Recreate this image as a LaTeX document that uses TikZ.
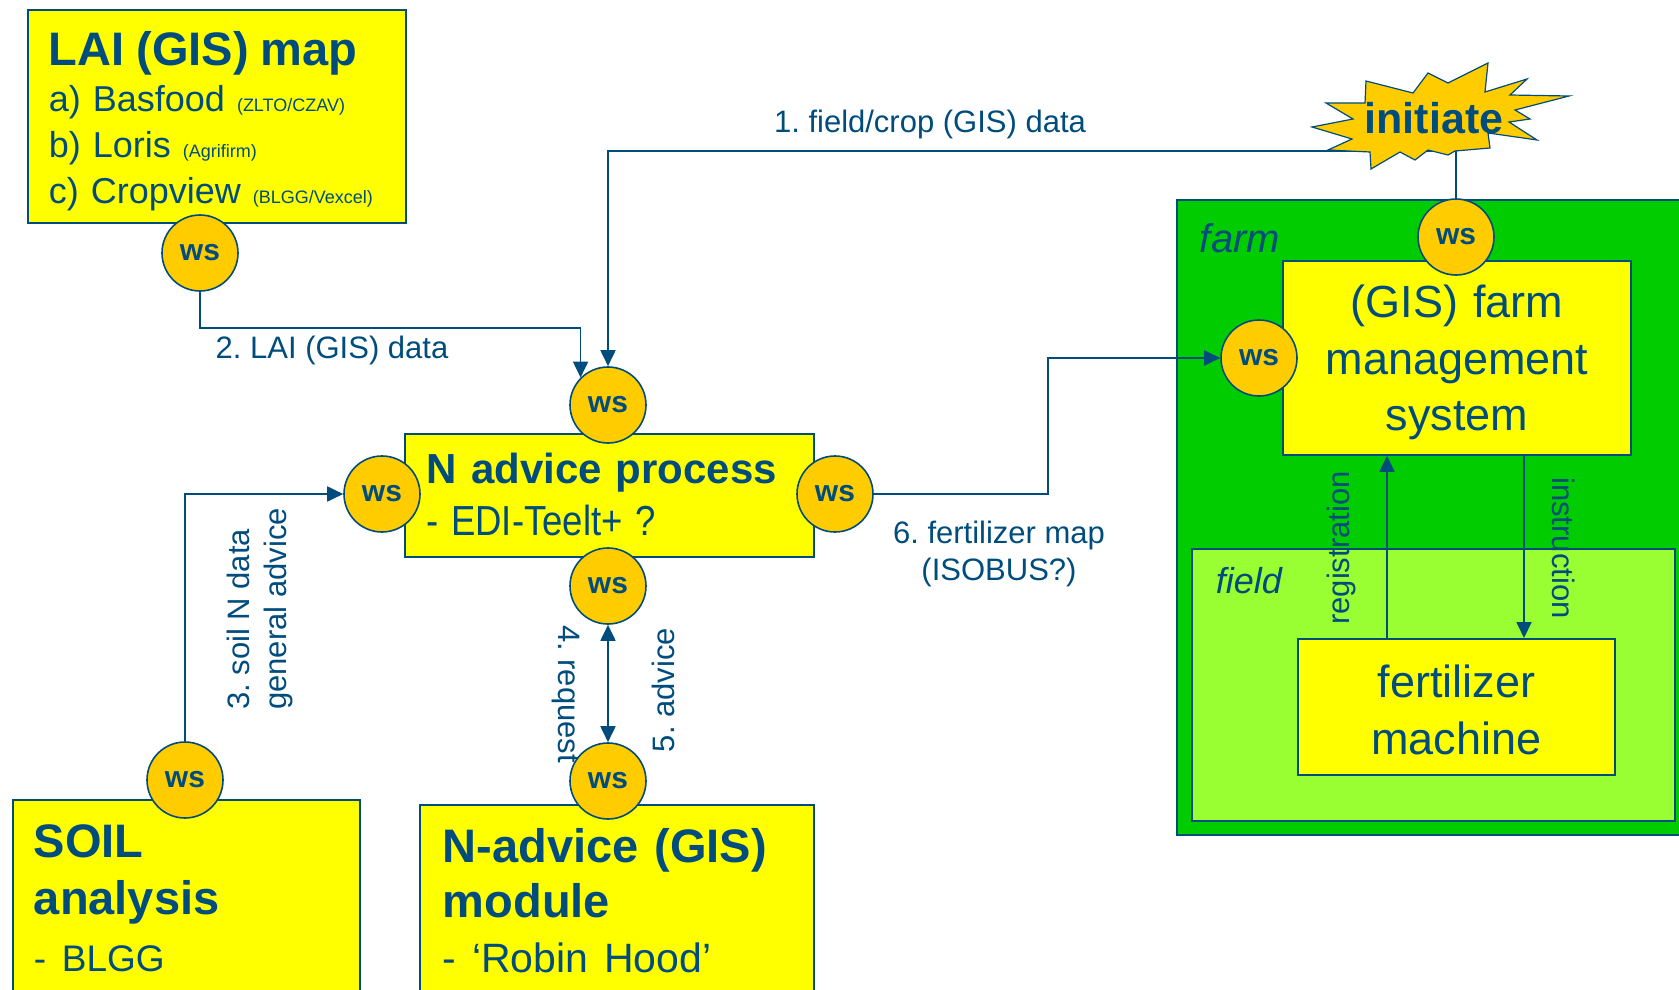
\documentclass[tikz,border=0pt]{standalone}
\usepackage{fontspec}
\setmainfont{Liberation Sans}
\usepackage{graphicx}
\usetikzlibrary{arrows.meta}
\definecolor{navy}{RGB}{0,76,125}
\definecolor{boxyellow}{RGB}{255,255,0}
\definecolor{wsorange}{RGB}{255,204,0}
\definecolor{farmgreen}{RGB}{0,204,0}
\definecolor{fieldgreen}{RGB}{153,255,51}
\newcommand{\fsz}[2]{\fontsize{#1}{#2}\selectfont}
\newcommand{\topgap}[1]{\rule{0pt}{#1}}
\newcommand{\botgap}[1]{\rule[-#1]{0pt}{#1}}
\frenchspacing

\begin{document}
\begin{tikzpicture}[x=1pt,y=-1pt,
    box/.style={draw=navy,line width=1.8pt,fill=boxyellow,anchor=north west,align=left,inner ysep=0pt,text=navy},
    ws/.style={circle,draw=navy,line width=1.6pt,fill=wsorange,minimum size=76pt,inner sep=0pt,text=navy,font=\fsz{30}{30}\bfseries},
    conn/.style={draw=navy,line width=1.8pt,-{Triangle[length=16pt,width=15pt]}},
    lbl/.style={text=navy,inner sep=0pt,font=\fsz{31}{37.5}}]
    \useasboundingbox (0,0) rectangle (1679,990);

    % farm side
    \node[box,fill=farmgreen,text width=468pt,inner xsep=23pt,font=\fsz{40}{40}\itshape] (farm) at (1176,199) {\topgap{53pt}farm\botgap{582pt}};
    \node[box,fill=fieldgreen,text width=435pt,inner xsep=24pt,font=\fsz{36}{36}\itshape] (field) at (1191,548) {\topgap{45pt}field\botgap{227pt}};
    \node[box,align=center,text width=328pt,inner xsep=10pt,font=\fsz{45}{56.5}] (fms) at (1282,260) {\topgap{57pt}(GIS) farm\\management\\system\botgap{24pt}};
    \node[box,align=center,text width=297pt,inner xsep=10pt,font=\fsz{45}{57}] (machine) at (1297,638) {\topgap{59pt}fertilizer\\machine\botgap{20pt}};

    % advice side
    \node[box,text width=336pt,inner xsep=21pt,font=\fsz{36}{46}] (lai) at (27,9) {\topgap{56pt}{\fsz{47}{47}\bfseries LAI (GIS) map}\\a) Basfood {\fsz{18}{18}(ZLTO/CZAV)}\\b) Loris {\fsz{18}{18}(Agrifirm)}\\c) Cropview {\fsz{18}{18}(BLGG/Vexcel)}\botgap{19pt}};
    \node[box,text width=365pt,inner xsep=22pt,font=\fsz{42}{52}] (nproc) at (404,433) {\topgap{50pt}\textbf{N advice process}\\\scalebox{0.87}[1]{- EDI-Teelt+ ?}\botgap{21pt}};
    \node[box,text width=305pt,inner xsep=21pt,font=\fsz{47}{57}\bfseries] (soil) at (12,799) {\topgap{58pt}SOIL\\analysis\\{\fsz{37}{57}\mdseries - BLGG}\botgap{40pt}};
    \node[box,text width=348pt,inner xsep=23pt,font=\fsz{47}{55}\bfseries] (module) at (419,804) {\topgap{58pt}N-advice (GIS)\\module\\{\fsz{41}{55}\mdseries - ‘Robin Hood’}\botgap{40pt}};

    % web services
    \node[ws] (wslai) at (200,253) {ws};
    \node[ws] (wsntop) at (608,405) {ws};
    \node[ws] (wsnleft) at (382,494) {ws};
    \node[ws] (wsnright) at (835,494) {ws};
    \node[ws] (wsnbot) at (608,586) {ws};
    \node[ws] (wssoil) at (185,780) {ws};
    \node[ws] (wsmod) at (608,781) {ws};
    \node[ws] (wsftop) at (1456,237) {ws};
    \node[ws] (wsfleft) at (1259,358) {ws};

    % connectors
    \coordinate (burst) at (1456,151);
    \draw[conn] (wsftop.north) -- (burst) -| (wsntop.north);
    \draw[conn] (wslai.south) -- ++(0,36) -| (wsntop.north west);
    \draw[conn] (wssoil.north) |- (wsnleft.west);
    \draw[conn,{Triangle[length=16pt,width=15pt]}-{Triangle[length=16pt,width=15pt]}] (wsnbot.south) -- (wsmod.north);
    \draw[conn] (wsnright.east) -- ++(174,0) |- (wsfleft.west);
    \coordinate (regfoot) at ([xshift=90pt]machine.north west);
    \coordinate (insfoot) at ([xshift=242pt]fms.south west);
    \draw[conn] (regfoot) -- (regfoot |- fms.south);
    \draw[conn] (insfoot) -- (insfoot |- machine.north);

    % initiate
    \filldraw[draw=navy,fill=wsorange,line width=1.2pt] (1366,81) -- (1413,93) -- (1428,73) -- (1448,83) -- (1488,63) -- (1485,92) -- (1527,79) -- (1510,95) -- (1569,96) -- (1515,110) -- (1530,119) -- (1509,122) -- (1537,140) -- (1488,133) -- (1490,148) -- (1455,151) -- (1448,155) -- (1428,150) -- (1415,160) -- (1400,152) -- (1371,169) -- (1370,152) -- (1328,150) -- (1352,139) -- (1312,127) -- (1353,119) -- (1326,103) -- (1365,103) -- cycle;
    \node[text=navy,font=\fsz{43}{43}\bfseries,anchor=base,inner sep=0pt] (initiate) at (1434,133) {initiate};

    % labels
    \node[lbl,anchor=base] (l1) at (930,132) {1. field/crop (GIS) data};
    \node[lbl,anchor=base] (l2) at (332,358) {2. LAI (GIS) data};
    \node[lbl,rotate=90,anchor=west,align=left] (l3) at (260,710) {3. soil N data\\general advice};
    \node[lbl,rotate=-90] (l4) at (566,694) {4. request};
    \node[lbl,rotate=90] (l5) at (663,690) {5. advice};
    \node[lbl,align=center] (l6) at (999,554) {6. fertilizer map\\(ISOBUS?)};
    \node[lbl,rotate=90] (lreg) at (1341,548) {registration};
    \node[lbl,rotate=-90] (lins) at (1564,548) {instruction};
\end{tikzpicture}
\end{document}
